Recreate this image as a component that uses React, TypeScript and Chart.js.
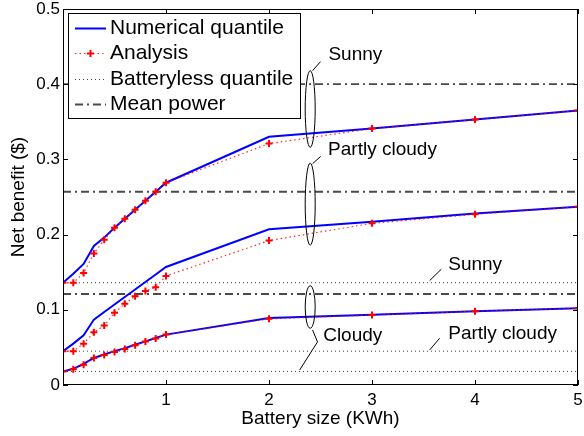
import React, { useEffect, useRef } from 'react';
import { Chart, registerables } from 'chart.js';

Chart.register(...registerables);

// ---------- data ----------
const batterySizes = [0, 0.1, 0.2, 0.3, 0.4, 0.5, 0.6, 0.7, 0.8, 0.9, 1, 2, 3, 4, 5];

const sunnyNumerical = [0.136, 0.148, 0.161, 0.185, 0.196, 0.209, 0.221, 0.233, 0.245, 0.257, 0.269, 0.330, 0.341, 0.353, 0.365];
const sunnyAnalysis = [0.136, 0.136, 0.149, 0.175, 0.193, 0.209, 0.221, 0.233, 0.245, 0.257, 0.269, 0.321, 0.341, 0.353, 0.365];
const partlyNumerical = [0.045, 0.055, 0.066, 0.087, 0.097, 0.107, 0.117, 0.127, 0.137, 0.147, 0.157, 0.207, 0.217, 0.228, 0.237];
const partlyAnalysis = [0.045, 0.045, 0.055, 0.070, 0.079, 0.096, 0.108, 0.118, 0.125, 0.130, 0.145, 0.192, 0.215, 0.227, 0.237];
const cloudyNumerical = [0.018, 0.0215, 0.028, 0.036, 0.0405, 0.045, 0.049, 0.0535, 0.058, 0.0625, 0.067, 0.089, 0.0935, 0.098, 0.102];
const cloudyAnalysis = [0.018, 0.021, 0.027, 0.036, 0.040, 0.044, 0.048, 0.053, 0.058, 0.062, 0.067, 0.088, 0.093, 0.098, 0.102];

const batterylessQuantile = [0.136, 0.045, 0.018]; // sunny, partly cloudy, cloudy
const meanPower = [0.4, 0.257, 0.121]; // sunny, partly cloudy, cloudy

const xTickValues = [0, 1, 2, 3, 4, 5];
const yTickValues = [0, 0.1, 0.2, 0.3, 0.4, 0.5];

const legendLabels = ['Numerical quantile', 'Analysis', 'Batteryless quantile', 'Mean power'];

// annotations (data coordinates)
const ellipseX = [2.4, 2.4, 2.4];
const ellipseTop = [0.418, 0.295, 0.132];
const ellipseBottom = [0.316, 0.186, 0.0755];

const noteTexts = ['Sunny', 'Partly cloudy', 'Cloudy', 'Sunny', 'Partly cloudy'];
const noteX = [2.577, 2.574, 2.526, 3.74, 3.74];
const noteY = [0.439, 0.313, 0.065, 0.160, 0.068];

const leaderLines: number[][][] = [
  [[2.5, 0.430], [2.423, 0.418]],
  [[2.502, 0.304], [2.423, 0.2943]],
  [[2.423, 0.0732], [2.471, 0.0573], [2.298, 0.02]],
  [[3.673, 0.154], [3.56, 0.1389]],
  [[3.657, 0.0622], [3.56, 0.0466]],
];

// ---------- styles ----------
const FONT = 'Liberation Sans, Arial, Helvetica, sans-serif';
const BLUE = '#0000ff';
const RED = '#ff0000';
const RED_DOT = 'rgba(255,0,0,0.85)';
const GRAY_DOT = '#444444';
const GRAY_DASH = '#4a4a4a';
const DOT_DASH = [1, 3];
const RED_DASH = [1.5, 3];
const DASH_DOT = [8, 4, 2, 4];

const toPts = (ys: number[]) => batterySizes.map((x, i) => ({ x, y: ys[i] }));
const hLine = (v: number) => [{ x: 0, y: v }, { x: 5, y: v }];

function numericalDs(ys: number[]) {
  return {
    data: toPts(ys),
    borderColor: BLUE,
    borderWidth: 2,
    pointRadius: 0,
    fill: false,
    order: 1,
  };
}
function analysisDs(ys: number[]) {
  return {
    data: toPts(ys),
    borderColor: RED_DOT,
    borderWidth: 1.2,
    borderDash: RED_DASH,
    pointStyle: 'cross',
    pointRadius: 3.5,
    pointBorderWidth: 2,
    pointBorderColor: RED,
    pointBackgroundColor: RED,
    fill: false,
    order: 0,
  };
}
function batterylessDs(v: number) {
  return {
    data: hLine(v),
    borderColor: GRAY_DOT,
    borderWidth: 1,
    borderDash: DOT_DASH,
    pointRadius: 0,
    fill: false,
    order: 3,
  };
}
function meanDs(v: number) {
  return {
    data: hLine(v),
    borderColor: GRAY_DASH,
    borderWidth: 1.8,
    borderDash: DASH_DOT,
    pointRadius: 0,
    fill: false,
    order: 2,
  };
}

const decorPlugin = {
  id: 'decor',
  afterDraw(chart: any) {
    const { ctx, chartArea: a, scales } = chart;
    const xs = scales.x;
    const ys = scales.y;
    const px = (v: number) => xs.getPixelForValue(v);
    const py = (v: number) => ys.getPixelForValue(v);
    const line = (x1: number, y1: number, x2: number, y2: number) => {
      ctx.beginPath();
      ctx.moveTo(x1, y1);
      ctx.lineTo(x2, y2);
      ctx.stroke();
    };
    ctx.save();
    ctx.setLineDash([]);
    ctx.strokeStyle = '#000';
    ctx.lineWidth = 1;

    // axes box
    ctx.strokeRect(a.left + 0.5, a.top + 0.5, a.right - a.left - 1, a.bottom - a.top - 1);

    // inward ticks
    ys.ticks.forEach((t: any) => {
      const p = Math.round(py(t.value)) + 0.5;
      line(a.left, p, a.left + 5, p);
      line(a.right - 5, p, a.right, p);
    });
    xs.ticks.forEach((t: any) => {
      const p = Math.round(px(t.value)) + 0.5;
      line(p, a.bottom, p, a.bottom - 5);
      line(p, a.top, p, a.top + 5);
    });

    // ellipses
    for (let i = 0; i < ellipseX.length; i++) {
      const cx = px(ellipseX[i]);
      const t = py(ellipseTop[i]);
      const b = py(ellipseBottom[i]);
      ctx.beginPath();
      ctx.ellipse(cx, (t + b) / 2, 5, (b - t) / 2, 0, 0, Math.PI * 2);
      ctx.stroke();
    }

    // leader lines
    leaderLines.forEach((pts) => {
      ctx.beginPath();
      pts.forEach(([x, y], j) => {
        if (j === 0) ctx.moveTo(px(x), py(y));
        else ctx.lineTo(px(x), py(y));
      });
      ctx.stroke();
    });

    // annotation texts
    ctx.fillStyle = '#000';
    ctx.font = `19px ${FONT}`;
    ctx.textAlign = 'left';
    ctx.textBaseline = 'middle';
    noteTexts.forEach((txt, i) => {
      ctx.fillText(txt, px(noteX[i]), py(noteY[i]));
    });

    // legend
    const lx = a.left + 5;
    const ly = a.top + 4;
    const lw = 232;
    const lh = 105;
    ctx.fillStyle = '#fff';
    ctx.fillRect(lx, ly, lw, lh);
    ctx.strokeStyle = '#000';
    ctx.lineWidth = 1;
    ctx.strokeRect(lx + 0.5, ly + 0.5, lw, lh);
    const s1 = lx + 7;
    const s2 = lx + 38;
    legendLabels.forEach((lab, i) => {
      const y = Math.round(ly + 15 + i * 25.3) + 0.5;
      ctx.save();
      if (i === 0) {
        ctx.strokeStyle = BLUE;
        ctx.lineWidth = 2;
        ctx.setLineDash([]);
        line(s1, y, s2, y);
      } else if (i === 1) {
        ctx.strokeStyle = RED_DOT;
        ctx.lineWidth = 1.2;
        ctx.setLineDash(RED_DASH);
        line(s1, y, s2, y);
        ctx.setLineDash([]);
        ctx.strokeStyle = RED;
        ctx.lineWidth = 2;
        const cx = (s1 + s2) / 2;
        line(cx - 3.5, y, cx + 3.5, y);
        line(cx, y - 3.5, cx, y + 3.5);
      } else if (i === 2) {
        ctx.strokeStyle = GRAY_DOT;
        ctx.lineWidth = 1;
        ctx.setLineDash(DOT_DASH);
        line(s1, y, s2, y);
      } else {
        ctx.strokeStyle = GRAY_DASH;
        ctx.lineWidth = 1.8;
        ctx.setLineDash(DASH_DOT);
        line(s1, y, s2, y);
      }
      ctx.restore();
      ctx.fillStyle = '#000';
      ctx.font = `21px ${FONT}`;
      ctx.textAlign = 'left';
      ctx.textBaseline = 'middle';
      ctx.fillText(lab, lx + 42, y);
    });
    ctx.restore();
  },
};

export default function App() {
  const ref = useRef<HTMLCanvasElement>(null);
  useEffect(() => {
    const canvas = ref.current;
    if (!canvas) return;
    const datasets: any[] = [
      numericalDs(sunnyNumerical),
      analysisDs(sunnyAnalysis),
      numericalDs(partlyNumerical),
      analysisDs(partlyAnalysis),
      numericalDs(cloudyNumerical),
      analysisDs(cloudyAnalysis),
      ...batterylessQuantile.map(batterylessDs),
      ...meanPower.map(meanDs),
    ];
    const chart = new Chart(canvas, {
      type: 'line',
      data: { datasets },
      options: {
        responsive: false,
        animation: false,
        devicePixelRatio: 1,
        layout: { padding: { top: 9, right: 1, left: 0, bottom: 0 } },
        plugins: {
          legend: { display: false },
          tooltip: { enabled: false },
        },
        elements: { line: { tension: 0 } },
        scales: {
          x: {
            type: 'linear',
            min: 0,
            max: 5,
            afterBuildTicks: (s: any) => {
              s.ticks = xTickValues.map((v) => ({ value: v }));
            },
            ticks: {
              color: '#000',
              font: { family: FONT, size: 17 },
              padding: 5,
              maxRotation: 0,
              autoSkip: false,
              callback: (v: any) => (v === 0 ? '' : String(v)),
            },
            grid: { display: false, drawTicks: false },
            border: { display: false },
            title: {
              display: true,
              text: 'Battery size (KWh)',
              color: '#000',
              font: { family: FONT, size: 19 },
              padding: { top: 0, bottom: 6 },
            },
            afterFit: (s: any) => {
              s.height = 51;
              s.paddingLeft = 0;
              s.paddingRight = 0;
            },
          },
          y: {
            type: 'linear',
            min: 0,
            max: 0.5,
            afterBuildTicks: (s: any) => {
              s.ticks = yTickValues.map((v) => ({ value: v }));
            },
            ticks: {
              color: '#000',
              font: { family: FONT, size: 17 },
              padding: 3,
              autoSkip: false,
              callback: (v: any) => (v === 0 ? '0' : Number(v).toFixed(1)),
            },
            grid: { display: false, drawTicks: false },
            border: { display: false },
            title: {
              display: true,
              text: 'Net benefit ($)',
              color: '#000',
              font: { family: FONT, size: 19 },
              padding: { top: 7, bottom: 0 },
            },
            afterFit: (s: any) => {
              s.width = 63;
              s.paddingTop = 0;
              s.paddingBottom = 0;
            },
          },
        },
      },
      plugins: [decorPlugin],
    } as any);
    return () => chart.destroy();
  }, []);
  return (
    <div style={{ position: 'fixed', left: 0, top: 0, width: 584, height: 436, background: '#fff' }}>
      <canvas ref={ref} width={584} height={436} style={{ display: 'block', width: 584, height: 436 }} />
    </div>
  );
}
